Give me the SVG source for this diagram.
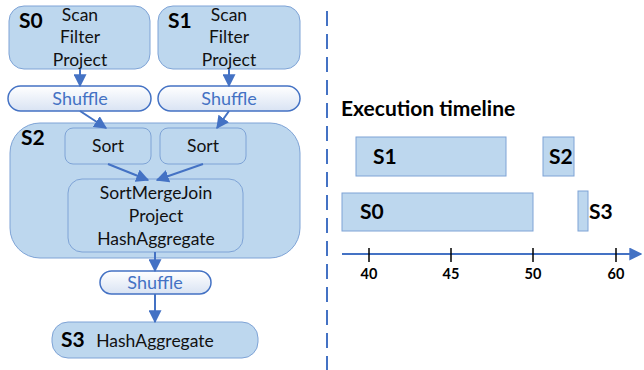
<svg xmlns="http://www.w3.org/2000/svg" width="644" height="370" viewBox="0 0 644 370">
  <defs>
    <linearGradient id="pillGrad" x1="0" y1="0" x2="0" y2="1">
      <stop offset="0" stop-color="#ffffff"/>
      <stop offset="1" stop-color="#d9e3f3"/>
    </linearGradient>
    <marker id="arrow" viewBox="0 0 10 10" refX="9" refY="5" markerWidth="13" markerHeight="13" markerUnits="userSpaceOnUse" orient="auto">
      <path d="M0,0 L10,5 L0,10 z" fill="#4472c4"/>
    </marker>
    <marker id="axisArrow" viewBox="0 0 10 10" refX="9" refY="5" markerWidth="13" markerHeight="13" markerUnits="userSpaceOnUse" orient="auto">
      <path d="M0,0 L10,5 L0,10 z" fill="#4472c4"/>
    </marker>
  </defs>
  <style>
    .stage { fill: #bdd7ee; stroke: #7ea3d6; stroke-width: 1; }
    .op { fill: #bdd7ee; stroke: #7ea3d6; stroke-width: 1; }
    .pill { fill: url(#pillGrad); stroke: #4472c4; stroke-width: 1.5; }
    .bar { fill: #bdd7ee; stroke: #7ea3d6; stroke-width: 1; }
    .txt { font-family: Lato, "Open Sans", sans-serif; font-size: 17.5px; fill: #111; text-anchor: middle; }
    .pilltxt { font-family: Lato, "Open Sans", sans-serif; font-size: 18px; fill: #4472c4; text-anchor: middle; }
    .lbl { font-family: Lato, "Open Sans", sans-serif; font-size: 21px; font-weight: bold; fill: #000; }
    .tick { font-family: Lato, "Open Sans", sans-serif; font-size: 14.5px; font-weight: bold; fill: #000; text-anchor: middle; }
    .conn { stroke: #4472c4; stroke-width: 2; fill: none; marker-end: url(#arrow); }
  </style>

  <!-- stage S0 -->
  <g id="s0">
    <rect class="stage" x="9" y="6" width="141" height="63" rx="15"/>
    <text class="lbl" x="19" y="28">S0</text>
    <text class="txt" x="80" y="21">Scan</text>
    <text class="txt" x="80" y="43">Filter</text>
    <text class="txt" x="80" y="66">Project</text>
  </g>

  <!-- stage S1 -->
  <g id="s1">
    <rect class="stage" x="158" y="6" width="142" height="63" rx="15"/>
    <text class="lbl" x="168" y="28">S1</text>
    <text class="txt" x="229" y="21">Scan</text>
    <text class="txt" x="229" y="43">Filter</text>
    <text class="txt" x="229" y="66">Project</text>
  </g>

  <!-- shuffles after S0 and S1 -->
  <g id="shuffle0">
    <rect class="pill" x="8" y="86" width="143" height="25" rx="12.5"/>
    <text class="pilltxt" x="80" y="105">Shuffle</text>
  </g>
  <g id="shuffle1">
    <rect class="pill" x="158" y="86" width="142" height="25" rx="12.5"/>
    <text class="pilltxt" x="229" y="105">Shuffle</text>
  </g>

  <!-- stage S2 with its operators -->
  <g id="s2">
    <rect class="stage" x="10" y="123" width="290" height="135" rx="30"/>
    <text class="lbl" x="21" y="145">S2</text>
  </g>
  <g id="sort0">
    <rect class="op" x="65" y="128" width="86" height="36" rx="8"/>
    <text class="txt" x="108" y="152">Sort</text>
  </g>
  <g id="sort1">
    <rect class="op" x="160" y="128" width="86" height="36" rx="8"/>
    <text class="txt" x="203" y="152">Sort</text>
  </g>
  <g id="smj">
    <rect class="op" x="68" y="179" width="175" height="73" rx="14"/>
    <text class="txt" x="156" y="199">SortMergeJoin</text>
    <text class="txt" x="156" y="222">Project</text>
    <text class="txt" x="156" y="245">HashAggregate</text>
  </g>

  <!-- shuffle after S2 -->
  <g id="shuffle2">
    <rect class="pill" x="100" y="271" width="111" height="23" rx="11.5"/>
    <text class="pilltxt" x="155" y="289">Shuffle</text>
  </g>

  <!-- stage S3 -->
  <g id="s3">
    <rect class="stage" x="52" y="322" width="206" height="36" rx="16"/>
    <text class="lbl" x="61" y="347">S3</text>
    <text class="txt" x="155" y="347">HashAggregate</text>
  </g>

  <!-- connectors -->
  <g id="connectors">
    <line class="conn" x1="80" y1="69" x2="80" y2="86"/>
    <line class="conn" x1="229" y1="69" x2="229" y2="86"/>
    <line class="conn" x1="80" y1="111" x2="106" y2="128"/>
    <line class="conn" x1="229" y1="111" x2="217" y2="128"/>
    <line class="conn" x1="108" y1="164" x2="148" y2="180"/>
    <line class="conn" x1="203" y1="164" x2="157" y2="180"/>
    <line class="conn" x1="155" y1="252" x2="155" y2="271"/>
    <line class="conn" x1="155" y1="294" x2="155" y2="322"/>
  </g>

  <!-- divider -->
  <line x1="327" y1="11" x2="327" y2="370" stroke="#4472c4" stroke-width="2" stroke-dasharray="15 8"/>

  <!-- execution timeline -->
  <g id="timeline">
    <text class="lbl" x="341" y="116" font-size="20.5">Execution timeline</text>
    <rect class="bar" x="356" y="137" width="150" height="39"/>
    <text class="lbl" x="373" y="164" font-size="20">S1</text>
    <rect class="bar" x="543" y="137" width="31" height="39"/>
    <text class="lbl" x="549" y="164" font-size="20">S2</text>
    <rect class="bar" x="342" y="193" width="191" height="38"/>
    <text class="lbl" x="360" y="219" font-size="20">S0</text>
    <rect class="bar" x="578" y="191" width="10" height="40"/>
    <text class="lbl" x="589" y="219" font-size="20">S3</text>
  </g>

  <!-- time axis -->
  <g id="axis">
    <line x1="342" y1="254" x2="641" y2="254" stroke="#4472c4" stroke-width="2" marker-end="url(#axisArrow)"/>
    <g stroke="#000" stroke-width="1.5">
      <line x1="369" y1="248" x2="369" y2="262"/>
      <line x1="451" y1="248" x2="451" y2="262"/>
      <line x1="533" y1="248" x2="533" y2="262"/>
      <line x1="616" y1="248" x2="616" y2="262"/>
    </g>
    <text class="tick" x="369" y="279">40</text>
    <text class="tick" x="451" y="279">45</text>
    <text class="tick" x="533" y="279">50</text>
    <text class="tick" x="616" y="279">60</text>
  </g>
</svg>
